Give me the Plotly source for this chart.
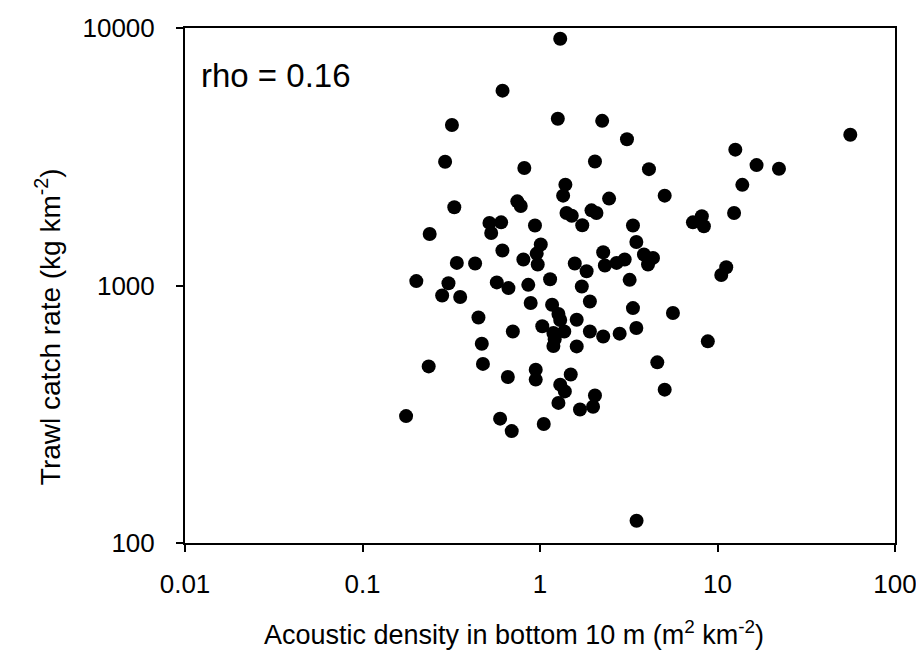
import plotly.graph_objects as go

# Acoustic density (m2 km-2) and trawl catch rate (kg km-2)
acoustic_density = [
    1.30, 0.615, 1.26, 2.24, 0.319, 56, 3.09, 12.6, 0.292, 2.04,
    0.816, 16.6, 22.2, 4.11, 1.39, 13.8, 1.35, 5.04, 2.45, 0.745,
    0.779, 0.329, 1.41, 1.51, 1.95, 2.08, 12.4, 7.27, 8.16, 8.38,
    0.519, 0.604, 0.531, 0.937, 1.73, 3.34, 0.239, 3.49, 1.01, 0.958,
    0.614, 2.27, 0.971, 0.340, 0.431, 0.806, 2.32, 2.70, 3.00, 3.85,
    4.33, 4.06, 1.57, 1.83, 11.2, 10.5, 3.20, 0.201, 0.305, 0.571,
    0.664, 0.859, 1.14, 1.72, 0.281, 0.355, 5.61, 0.886, 1.91, 1.17,
    1.27, 1.30, 1.03, 1.19, 1.21, 1.19, 1.37, 3.34, 0.450, 1.61,
    0.703, 3.49, 2.81, 2.27, 1.91, 0.470, 1.61, 8.82, 0.236, 0.477,
    0.946, 0.946, 0.659, 1.49, 4.58, 1.30, 1.38, 5.04, 1.27, 2.04,
    1.99, 1.68, 0.176, 0.596, 0.693, 1.05, 3.50,
]
catch_rate = [
    9080, 5710, 4440, 4360, 4200, 3850, 3700, 3370, 3025, 3030,
    2860, 2935, 2840, 2830, 2464, 2460, 2233, 2233, 2175, 2122,
    2036, 2012, 1913, 1867, 1958, 1913, 1912, 1759, 1857, 1698,
    1750, 1759, 1600, 1709, 1713, 1710, 1585, 1476, 1442, 1330,
    1367, 1346, 1206, 1224, 1217, 1261, 1196, 1224, 1261, 1319,
    1280, 1206, 1217, 1136, 1178, 1099, 1052, 1040, 1021, 1028,
    977, 1006, 1058, 991, 915, 902, 782, 855, 867, 842,
    775, 735, 695, 654, 618, 582, 663, 817, 751, 736,
    663, 684, 650, 634, 663, 594, 580, 607, 485, 496,
    471, 431, 441, 451, 503, 412, 388, 394, 350, 374,
    338, 330, 311, 304, 272, 290, 122,
]

x_tick_vals = [0.01, 0.1, 1, 10, 100]
x_tick_text = ["0.01", "0.1", "1", "10", "100"]
y_tick_vals = [100, 1000, 10000]
y_tick_text = ["100", "1000", "10000"]

FONT = "Liberation Sans, Arial, sans-serif"

fig = go.Figure(
    go.Scatter(
        x=acoustic_density,
        y=catch_rate,
        mode="markers",
        marker=dict(color="black", size=14, line=dict(width=0)),
        showlegend=False,
    )
)

axis_common = dict(
    type="log",
    showgrid=False,
    zeroline=False,
    showline=True,
    linecolor="black",
    linewidth=2,
    mirror=True,
    ticks="outside",
    ticklen=7,
    tickwidth=2,
    tickcolor="black",
    automargin=False,
    tickfont=dict(family=FONT, size=26, color="black"),
)

fig.update_xaxes(
    **axis_common,
    range=[-2, 2],
    tickvals=x_tick_vals,
    ticktext=x_tick_text,
    ticklabelstandoff=10,
)
fig.update_yaxes(
    **axis_common,
    range=[2, 4],
    tickvals=y_tick_vals,
    ticktext=y_tick_text,
    ticklabelstandoff=16,
)

# Axis titles placed as annotations to match the original's offsets
fig.add_annotation(
    text="Acoustic density in bottom 10 m (m<sup>2</sup> km<sup>-2</sup>)",
    xref="paper", yref="paper",
    x=0.463, y=-0.175,
    xanchor="center", yanchor="middle",
    showarrow=False,
    font=dict(family=FONT, size=27, color="black"),
)
fig.add_annotation(
    text="Trawl catch rate (kg km<sup>-2</sup>)",
    xref="paper", yref="paper",
    x=-0.193, y=0.421,
    xanchor="center", yanchor="middle",
    textangle=-90,
    showarrow=False,
    font=dict(family=FONT, size=28, color="black"),
)

fig.add_annotation(
    text="rho = 0.16",
    xref="paper", yref="paper",
    x=0.020, y=0.907,
    xanchor="left", yanchor="middle",
    showarrow=False,
    font=dict(family=FONT, size=33, color="black"),
)

fig.update_layout(
    width=924,
    height=653,
    margin=dict(l=177, r=37, t=20, b=118),
    plot_bgcolor="white",
    paper_bgcolor="white",
)

fig.write_html("out.html")
